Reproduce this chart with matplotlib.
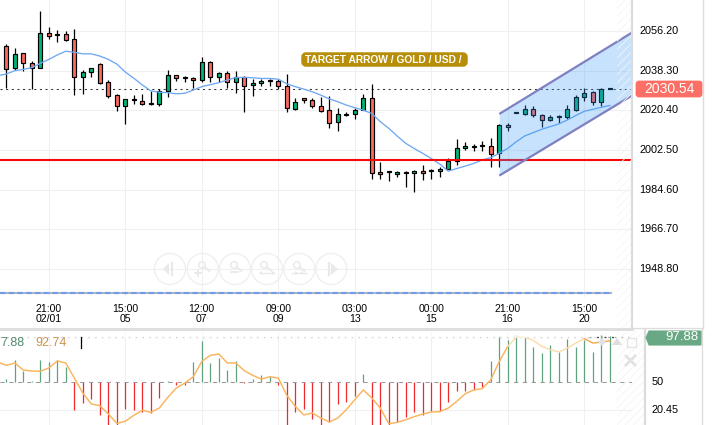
import numpy as np
import matplotlib
matplotlib.use("Agg")
import matplotlib.pyplot as plt
from matplotlib.patches import Circle, Polygon, Rectangle, FancyBboxPatch

plt.rcParams['font.family'] = ['Liberation Sans', 'DejaVu Sans']
plt.rcParams['hatch.linewidth'] = 0.6

# ---------- data ----------
highs = [2050.4,2048.7,2046.2,2042.5,2065.1,2057.9,2056.7,2056.4,2057.0,2038.5,2039.4,2041.8,2034.0,2027.7,2025.7,2027.5,2027.9,2029.0,2030.2,2038.5,2036.5,2035.8,2035.3,2044.3,2042.8,2037.7,2038.0,2038.0,
         2035.9,2034.7,2034.7,2034.7,2034.4,2036.8,2025.8,2026.2,2026.2,2026.5,2027.1,2021.3,2019.9,2021.3,2027.6,2032.1,1997.1,1992.9,1992.9,1992.9,1993.3,1995.6,1994.2,1994.7,1998.9,2007.6,2006.0,2005.1,
         2006.5,2007.8,2014.3,2014.9,2019.6,2022.7,2022.4,2019.0,2018.1,2018.5,2022.7,2027.5,2030.4,2029.0,2030.4,2030.7]
tops = [2049.3,2045.7,2046.2,2041.6,2055.2,2055.2,2054.7,2054.7,2052.5,2037.6,2039.4,2041.2,2033.1,2027.2,2025.4,2025.4,2024.8,2023.6,2029.0,2036.2,2036.2,2035.0,2034.9,2042.1,2042.1,2037.1,2037.1,2035.6,
        2035.6,2032.6,2033.8,2033.9,2033.5,2031.2,2024.0,2026.2,2024.9,2022.6,2020.4,2018.6,2019.0,2020.4,2026.2,2026.2,1992.4,1992.6,1992.4,1992.4,1992.9,1992.9,1993.3,1993.8,1997.8,2003.3,2004.2,2004.2,
        2004.8,2004.5,2013.7,2013.7,2019.6,2021.2,2021.2,2018.1,2017.6,2017.6,2021.2,2026.3,2028.1,2028.6,2030.2,2030.4]
bottoms = [2038.9,2039.7,2041.6,2039.7,2039.7,2054.1,2054.3,2052.3,2035.3,2035.3,2037.6,2032.9,2027.1,2022.3,2022.3,2025.1,2023.5,2023.3,2023.5,2029.0,2034.9,2034.9,2034.0,2034.0,2035.3,2035.3,2033.1,2033.1,
           2031.5,2031.7,2032.6,2033.5,2031.2,2021.3,2021.1,2024.9,2022.6,2020.2,2014.5,2015.0,2018.4,2019.0,2020.4,1992.0,1991.7,1992.4,1991.8,1992.3,1992.0,1992.0,1993.0,1992.9,1993.8,1997.7,2003.3,2003.9,
           2004.2,2000.9,2001.4,2012.7,2019.4,2018.8,2018.1,2016.0,2016.0,2017.2,2017.2,2020.8,2026.3,2024.1,2024.1,2030.1]
lows = [2030.7,2038.8,2038.3,2029.9,2039.7,2052.8,2051.4,2051.9,2027.5,2028.0,2035.3,2032.5,2026.2,2020.3,2014.4,2023.5,2023.0,2023.0,2022.5,2026.6,2033.8,2033.4,2030.5,2033.2,2033.4,2033.4,2030.5,2028.4,
        2019.8,2027.0,2031.5,2031.4,2030.2,2019.8,2020.7,2023.8,2021.6,2019.8,2012.6,2011.2,2018.0,2016.6,2020.4,1989.6,1989.6,1988.7,1990.3,1986.0,1983.7,1989.1,1989.3,1990.2,1993.8,1995.6,2002.4,2001.9,
        2002.1,1995.1,1995.1,2010.9,2019.4,2018.1,2017.6,2012.7,2015.8,2014.5,2016.7,2020.3,2024.8,2023.0,2022.6,2029.9]
up = "RGRRGRGRRGGRRRGGRGGGRGRGRGRG" + "RGGGRRGRRRRGGGGRRGGGGRGGGGGG" + "GRGRGGRRGGGGGRGG"

ma_line = [2036.1,2036.8,2038.3,2038.9,2039.7,2041.6,2043.4,2045.4,2047.1,2046.6,2045.9,2045.9,2044.9,2043.4,2041.3,2037.7,2034.9,2031.9,2029.2,2028.6,2028.4,2027.9,2028.1,2029.6,2031.1,2032.0,2032.9,2034.1,2035.2,
           2035.3,2035.1,2034.8,2034.8,2034.5,2032.4,2031.1,2030.0,2028.8,2027.3,2025.6,2024.3,2022.8,2021.6,2020.5,2019.0,2015.3,2012.3,2008.8,2005.5,2003.2,2001.0,1998.7,1996.2,1993.0,1994.2,1995.3,1996.5,
           1998.1,1999.1,2001.1,2003.3,2006.3,2008.9,2010.4,2011.9,2013.1,2014.3,2016.1,2018.1,2020.0,2020.9,2021.8,2022.6]

osc_bars = [53.2,73.6,61.3,50.7,73.6,71.1,72.9,66.2,20.1,27.5,32.0,15.2,-2.1,1.4,21.5,20.4,18.3,17.3,32.8,50.7,47.2,47.2,71.1,92.9,70.1,75.3,63.0,71.8,
            48.6,53.2,57.4,56.3,46.5,-2.1,18.3,21.1,11.3,3.2,7.4,26.8,28.5,34.9,58.8,-2.1,-2.1,4.9,7.4,13.0,18.3,15.5,19.0,19.7,28.9,40.5,40.8,41.9,
            44.4,72.5,98.2,94.7,100.0,97.2,86.6,80.6,89.4,81.7,95.8,86.6,94.7,81.7,100.0,98.2]
osc_line = [71.1,67.6,70.1,62.7,61.6,61.3,64.8,72.2,70.1,54.2,38.4,26.8,25.0,16.2,6.4,8.5,14.8,20.1,18.0,22.5,33.8,43.7,48.9,55.6,71.8,78.2,79.6,70.1,70.1,
            62.0,57.0,53.2,55.6,54.2,35.9,24.3,15.2,17.3,12.0,7.8,12.0,20.8,31.3,41.6,33.1,22.5,6.0,7.4,10.2,13.4,16.2,18.3,18.7,22.5,29.6,37.7,41.6,
            43.0,52.5,71.8,87.7,97.5,97.2,94.0,87.7,84.1,81.7,85.9,91.2,95.8,91.2,92.2,93.6]

price_ticks = [2056.20,2038.30,2020.40,2002.50,1984.60,1966.70,1948.80]
time_idx = [5,14,23,32,41,50,59,68]
time_top = ["21:00","15:00","12:00","09:00","03:00","00:00","21:00","15:00"]
time_bottom = ["02/01","05","07","09","13","15","16","20"]
channel_x = [58,73.7]
channel_upper = [2018.8,2055.7]
channel_lower = [1991.0,2027.3]
support_level = 1998.0
last_line = 2029.9
last_price = "2030.54"
osc_ticks = [50,20.45]
osc_last = "97.88"
osc_left = "7.88"
osc_signal = "92.74"
title_text = "TARGET ARROW / GOLD / USD /"
low_band = 1938.1
osc_top_level = 97.6

# ---------- layout ----------
W, H = 717, 425
fig = plt.figure(figsize=(W/100, H/100), dpi=100, facecolor='white')
def pane(x0, y0, x1, y1):
    return fig.add_axes([x0/W, 1-y1/H, (x1-x0)/W, (y1-y0)/H])

GRID = '#f0f0f0'
ax = pane(0, 0, 632, 297)
ax.set_xlim(-0.741, 73.61)
ax.set_ylim(1936.26, 2070.18)
sub = pane(0, 331, 632, 425)
sub.set_xlim(-0.741, 73.61)
sub.set_ylim(4.6, 103.9)
for a in (ax, sub):
    a.axis('off')
    for t in time_idx:
        a.axvline(t, color=GRID, lw=0.8, zorder=0)
for p in price_ticks:
    ax.axhline(p, color=GRID, lw=0.8, zorder=0)
sub.axhline(osc_ticks[1], color=GRID, lw=0.8, zorder=0)

# main pane
idx = np.arange(len(highs))
tops_a, bots_a = np.array(tops), np.array(bottoms)
ax.vlines(idx, lows, highs, color='black', lw=0.9, zorder=3)
colors = ['#00b377' if c == 'G' else '#fb6a5f' for c in up]
ax.bar(idx, np.maximum(tops_a-bots_a, 0.5), bottom=bots_a, width=0.5, color=colors,
       edgecolor='black', lw=0.85, zorder=4)
ax.plot(np.arange(-1, len(ma_line)-1), ma_line, color='#6fa8f2', lw=0.95, zorder=5)
ax.axhline(support_level, color='#f50a0a', lw=1.5, zorder=6)
ax.axhline(last_line, color='#333333', lw=0.75, ls=(0, (2, 3.4)), zorder=2)
ax.hlines(low_band, -0.741, 71.3, color='#a9b4c4', lw=1.5, zorder=2)
ax.hlines(low_band, -0.741, 71.3, color='#6f9be8', lw=1.5, ls=(0, (2.6, 1.6)), zorder=2)
ax.fill_between(channel_x, channel_lower, channel_upper, color='#3398fa', alpha=0.28, lw=0, zorder=7)
ax.plot(channel_x, channel_upper, color='#7f80c2', lw=1.6, zorder=8, solid_capstyle='butt')
ax.plot(channel_x, channel_lower, color='#7f80c2', lw=1.6, zorder=8, solid_capstyle='butt')

# oscillator pane
vals = np.array(osc_bars)
bar_cols = ['#5fa27d' if v >= 50 else '#ee2b2b' for v in vals]
sub.vlines(idx, 50, vals, colors=bar_cols, lw=0.9, zorder=3)
sub.axhline(osc_ticks[0], color='#9a9a9a', lw=0.75, ls=(0, (4, 4.5)), zorder=4)
line_x = np.arange(-1, len(osc_line)-1)
sub.plot(line_x[:61], osc_line[:61], color='#fbb45c', lw=1.05, zorder=5)
sub.plot(line_x[60:70], osc_line[60:70], color='#fcdcae', lw=1.05, zorder=5)
sub.plot(line_x[69:], osc_line[69:], color='#f7ab4f', lw=1.05, zorder=5)
sub.axhline(osc_top_level, color='#a8a8a8', lw=0.9, ls=(0, (1.4, 4)), zorder=4)
sub.hlines(osc_top_level, 68.5, 71.6, color='#444444', lw=0.9, ls=(0, (1.6, 4.4)), zorder=6)

# overlay in pixel space for chrome
ov = fig.add_axes([0, 0, 1, 1], zorder=10)
ov.set_xlim(0, W); ov.set_ylim(H, 0); ov.axis('off'); ov.patch.set_alpha(0)
EDGE = '#dcdcdc'
for (x0, y0, x1, y1) in [(617, 0, 632, 328), (617, 331, 644, 425)]:
    ov.add_patch(Rectangle((x0, y0), x1-x0, y1-y0, fc='none', ec='#f4f4f4', hatch='////', lw=0, zorder=1))
ov.add_patch(Rectangle((0, 331), 596, 7, fc='white', alpha=0.55, lw=0, zorder=1))
ov.plot([632, 632], [0, 328], color=EDGE, lw=1.6, zorder=2)
ov.plot([703, 703], [0, 328], color=EDGE, lw=1, zorder=2)
ov.plot([0, 632], [329, 329], color=EDGE, lw=2, zorder=2)
ov.plot([632, 703], [328, 328], color=EDGE, lw=0.9, zorder=2)
ov.plot([645, 645], [329, 425], color=EDGE, lw=1.6, zorder=2)
ov.plot([702, 702], [329, 425], color=EDGE, lw=0.9, zorder=2)

for p in price_ticks:
    py = 31 + (price_ticks[0]-p)/0.4509
    ov.text(639, py, f"{p:.2f}", fontsize=7.8, color='black', ha='left', va='center')
for t, a, b in zip(time_idx, time_top, time_bottom):
    px = 6.3 + 8.496*t
    ov.text(px, 309, a, fontsize=7.6, color='black', ha='center', va='center')
    ov.text(px, 319.5, b, fontsize=7.6, color='black', ha='center', va='center')

# price label
ov.add_patch(FancyBboxPatch((637, 82), 64, 14, boxstyle='round,pad=0,rounding_size=2',
                            fc='#fb6f66', ec='#fb6f66', lw=2, zorder=4))
ov.text(669, 89, last_price, color='white', fontsize=10, ha='center', va='center', zorder=5)
# title pill
ov.add_patch(FancyBboxPatch((303, 54), 163, 11, boxstyle='round,pad=0,rounding_size=3',
                            fc='#b78e08', ec='#b78e08', lw=2.5, zorder=4))
ov.text(383.5, 59.8, title_text, color='white', fontsize=7.4, fontweight='bold',
        ha='center', va='center', zorder=5)
# oscillator labels
ov.text(0.5, 343, osc_left, color='#4f8a6a', fontsize=9, ha='left', va='center', zorder=5)
ov.text(35, 343, osc_signal, color='#c9924a', fontsize=9, ha='left', va='center', zorder=5)
ov.plot([81, 81], [337, 348], color='black', lw=0.9, zorder=5)
for t, y in zip(osc_ticks, [382, 410]):
    ov.text(652, y, f"{t:g}", fontsize=7.8, color='black', ha='left', va='center')
ov.add_patch(Polygon([[646, 337.5], [649, 331], [701, 331], [701, 345], [649, 345]],
                     fc='#69a884', ec='#69a884', lw=0.8, zorder=4))
ov.text(682, 336.5, osc_last, color='white', fontsize=9.5, ha='center', va='center', zorder=5)

# faint zoom buttons
C = '#efefef'; I = '#e9e9e9'
btn_x = [170, 202.7, 235, 267, 299.3, 331.3]
cy = 269
def loupe(cx, dy=-4):
    ov.add_patch(Circle((cx-1, cy+dy), 3.3, fc='none', ec=I, lw=1, zorder=3))
    ov.plot([cx+1.5, cx+6.5], [cy+dy+2, cy+dy+6], color=I, lw=1.3, zorder=3)
for bx in btn_x:
    ov.add_patch(Circle((bx, cy), 15.5, fc='none', ec=C, lw=1.0, zorder=2))
ov.add_patch(Polygon([[163, cy], [169, cy-6], [169, cy+6]], fc=I, ec='none', zorder=3))
ov.plot([171.5, 171.5], [cy-6, cy+6], color=I, lw=1.6, zorder=3)
loupe(203); ov.plot([194.5, 201], [cy+4, cy+4], color=I, lw=1.3, zorder=3); ov.plot([197.8, 197.8], [cy+1, cy+7], color=I, lw=1.3, zorder=3)
loupe(235); ov.plot([231, 238], [cy+3, cy+3], color=I, lw=1.3, zorder=3)
loupe(265)
ov.plot([260, 274], [cy+4, cy+4], color=I, lw=1, zorder=3)
ov.add_patch(Polygon([[259, cy+4], [262, cy+2], [262, cy+6]], fc=I, ec='none', zorder=3))
ov.add_patch(Polygon([[275, cy+4], [272, cy+2], [272, cy+6]], fc=I, ec='none', zorder=3))
loupe(298)
ov.plot([292, 306], [cy+4, cy+4], color=I, lw=1, zorder=3)
ov.add_patch(Polygon([[298, cy+4], [295, cy+2], [295, cy+6]], fc=I, ec='none', zorder=3))
ov.add_patch(Polygon([[300, cy+4], [303, cy+2], [303, cy+6]], fc=I, ec='none', zorder=3))
ov.plot([328.5, 328.5], [cy-6, cy+6], color=I, lw=1.6, zorder=3)
ov.add_patch(Polygon([[338, cy], [331, cy-6], [331, cy+6]], fc=I, ec='none', zorder=3))

# pane icons
ov.add_patch(Polygon([[602, 338], [606, 342], [602, 346], [598, 342]], fc='#e2e2e2', ec='none', zorder=3))
ov.add_patch(Polygon([[617, 338], [622, 345], [612, 345]], fc='#dedede', ec='none', zorder=3))
ov.add_patch(Rectangle((626.5, 338), 9, 8.5, fc='none', ec='#e4e4e4', lw=0.9, zorder=3))
ov.plot([626, 635], [356, 365], color='#e2e2e2', lw=2, zorder=3)
ov.plot([626, 635], [365, 356], color='#e2e2e2', lw=2, zorder=3)

fig.savefig('out.png', dpi=100, facecolor='white')
